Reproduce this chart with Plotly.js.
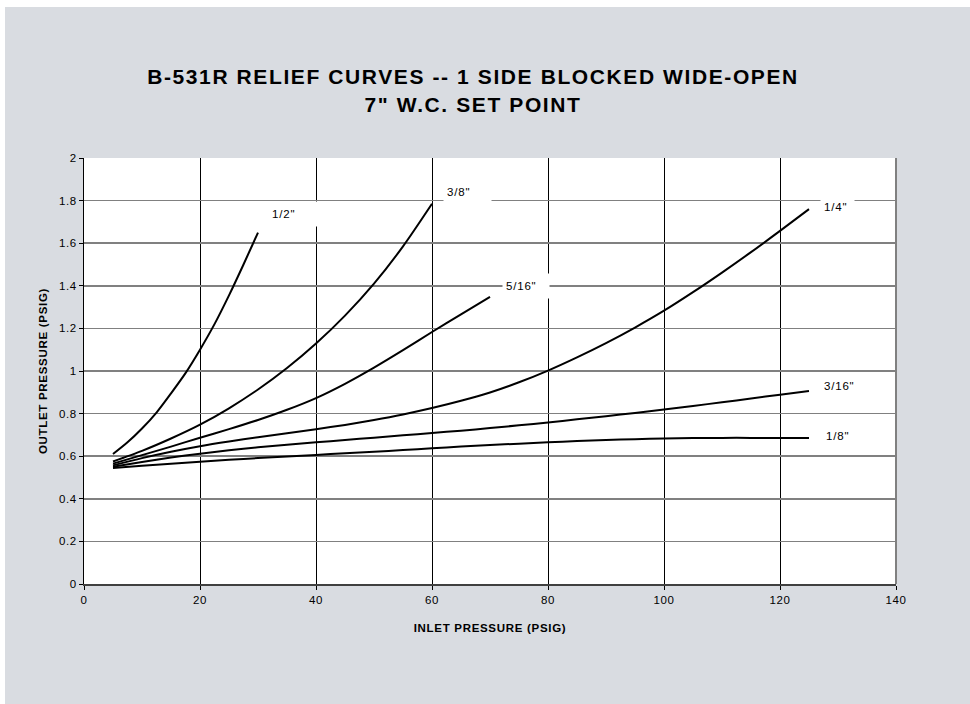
<!DOCTYPE html>
<html>
<head>
<meta charset="utf-8">
<script src="https://cdn.plot.ly/plotly-3.0.1.min.js"></script>
<style>
  html, body { margin: 0; padding: 0; background: #ffffff; }
  #chart { position: absolute; left: 5px; top: 7px; width: 965px; height: 697px; }
  #chart .gtitle { letter-spacing: 1.6px; }
  #chart .xtitle, #chart .ytitle { letter-spacing: 0.7px; }
  #chart .xtick text, #chart .ytick text { letter-spacing: 0.6px; }
  #chart .annotation-text { letter-spacing: 0.8px; }
</style>
</head>
<body>
<div id="chart"></div>
<script>
// ---- data ----
const seriesNames = ['1/2"', '3/8"', '5/16"', '1/4"', '3/16"', '1/8"'];

const xHalf = [5, 7.5, 10, 12.5, 15, 17.5, 20, 22.5, 25, 27.5, 30];
const yHalf = [0.61, 0.665, 0.73, 0.805, 0.895, 0.99, 1.10, 1.22, 1.355, 1.50, 1.65];

const xThreeEighths = [5, 10, 15, 20, 25, 30, 35, 40, 45, 50, 55, 60];
const yThreeEighths = [0.575, 0.625, 0.683, 0.748, 0.825, 0.913, 1.014, 1.129, 1.26, 1.41, 1.585, 1.785];

const xFiveSixteenths = [5, 10, 15, 20, 25, 30, 35, 40, 45, 50, 55, 60, 65, 70];
const yFiveSixteenths = [0.565, 0.605, 0.645, 0.687, 0.727, 0.77, 0.818, 0.873, 0.94, 1.016, 1.098, 1.183, 1.266, 1.348];

const xQuarter = [5, 10, 15, 20, 25, 30, 35, 40, 45, 50, 55, 60, 65, 70, 75, 80, 85, 90, 95, 100, 105, 110, 115, 120, 125];
const yQuarter = [0.557, 0.591, 0.621, 0.647, 0.669, 0.689, 0.708, 0.727, 0.747, 0.77, 0.796, 0.826, 0.86, 0.899, 0.947, 1.002, 1.064, 1.131, 1.204, 1.283, 1.37, 1.462, 1.558, 1.658, 1.76];

const xThreeSixteenths = [5, 10, 15, 20, 25, 30, 35, 40, 45, 50, 55, 60, 65, 70, 75, 80, 85, 90, 95, 100, 105, 110, 115, 120, 125];
const yThreeSixteenths = [0.55, 0.573, 0.594, 0.612, 0.628, 0.642, 0.654, 0.665, 0.676, 0.687, 0.698, 0.709, 0.72, 0.732, 0.745, 0.758, 0.773, 0.788, 0.803, 0.819, 0.836, 0.853, 0.871, 0.889, 0.906];

const xEighth = [5, 10, 15, 20, 25, 30, 35, 40, 45, 50, 55, 60, 65, 70, 75, 80, 85, 90, 95, 100, 105, 110, 115, 120, 125];
const yEighth = [0.545, 0.555, 0.565, 0.574, 0.583, 0.591, 0.599, 0.606, 0.614, 0.621, 0.629, 0.637, 0.645, 0.652, 0.659, 0.665, 0.671, 0.676, 0.68, 0.683, 0.685, 0.686, 0.686, 0.686, 0.686];

const xTickVals = [0, 20, 40, 60, 80, 100, 120, 140];
const yTickVals = [0, 0.2, 0.4, 0.6, 0.8, 1, 1.2, 1.4, 1.6, 1.8, 2];

const titleText = 'B-531R RELIEF CURVES -- 1 SIDE BLOCKED WIDE-OPEN<br>7" W.C. SET POINT';
const xTitle = 'INLET PRESSURE (PSIG)';
const yTitle = 'OUTLET PRESSURE (PSIG)';

// ---- build ----
const xs = [xHalf, xThreeEighths, xFiveSixteenths, xQuarter, xThreeSixteenths, xEighth];
const ys = [yHalf, yThreeEighths, yFiveSixteenths, yQuarter, yThreeSixteenths, yEighth];

const traces = xs.map((x, i) => ({
  type: 'scatter', mode: 'lines', name: seriesNames[i],
  x: x, y: ys[i],
  line: { color: '#000000', width: 2, shape: 'spline', smoothing: 0.8 },
  hoverinfo: 'x+y+name'
}));

// label placement (left edge of label box, vertical middle), box widths
const labelPos = [
  { x: 31.7, y: 1.739, w: 52 },
  { x: 61.9, y: 1.840, w: 49 },
  { x: 72.1, y: 1.399, w: 48 },
  { x: 126.9, y: 1.768, w: 35 },
  { x: 126.9, y: 0.930, w: 40 },
  { x: 127.2, y: 0.695, w: 35 }
];
const font = 'Liberation Sans, Arial, sans-serif';

const annotations = seriesNames.map((t, i) => ({
  xref: 'x', yref: 'y', x: labelPos[i].x, y: labelPos[i].y,
  text: t, showarrow: false, xanchor: 'left', yanchor: 'middle',
  align: 'left', width: labelPos[i].w - 8, height: 18, borderpad: 3,
  bgcolor: '#ffffff', font: { family: font, size: 11.5, color: '#000000' }
}));

const layout = {
  width: 965, height: 697,
  paper_bgcolor: '#d9dce1', plot_bgcolor: '#ffffff',
  margin: { l: 79, r: 74, t: 151, b: 120 },
  showlegend: false,
  font: { family: font, size: 11.5, color: '#000000' },
  title: {
    text: titleText, x: 0.485, xanchor: 'center', yref: 'container', y: 0.889, yanchor: 'middle',
    font: { family: font, size: 21, color: '#000000', weight: 'bold' }
  },
  xaxis: {
    range: [0, 140], tickvals: xTickVals, ticks: 'outside', ticklen: 4, tickcolor: '#000000',
    showgrid: true, gridcolor: '#000000', gridwidth: 1, zeroline: false,
    showline: true, linecolor: '#404040', linewidth: 2,
    tickfont: { family: font, size: 11.5 },
    title: { text: xTitle, standoff: 19, font: { family: font, size: 11.5, weight: 'bold' } }
  },
  yaxis: {
    range: [0, 2], tickvals: yTickVals, ticks: 'outside', ticklen: 4, tickcolor: '#000000',
    showgrid: true, gridcolor: '#808080', gridwidth: 1.5, zeroline: false,
    showline: true, linecolor: '#000000', linewidth: 1,
    tickfont: { family: font, size: 11.5 },
    title: { text: yTitle, standoff: 10, font: { family: font, size: 11.5, weight: 'bold' } }
  },
  shapes: [
    { type: 'line', xref: 'paper', yref: 'paper', x0: 1, x1: 1, y0: 0, y1: 1,
      line: { color: '#808080', width: 2 }, layer: 'above' }
  ],
  annotations: annotations
};

Plotly.newPlot('chart', traces, layout, { displayModeBar: false, staticPlot: true });
</script>
</body>
</html>
